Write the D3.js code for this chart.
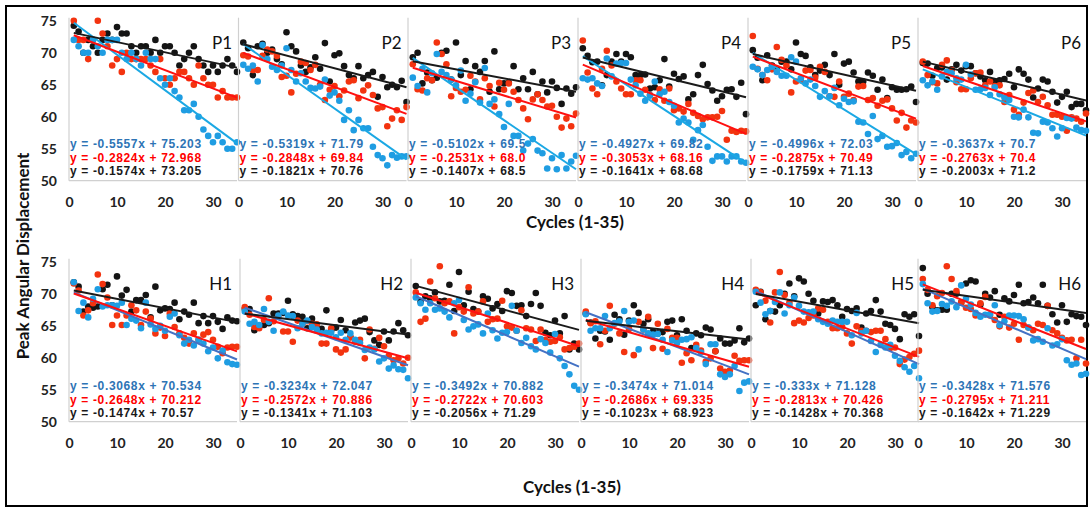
<!DOCTYPE html>
<html><head><meta charset="utf-8">
<script src="https://cdn.jsdelivr.net/npm/d3@7/dist/d3.min.js"></script>
<style>body{margin:0;background:#fff} text{font-family:Lato,'Open Sans',sans-serif}</style>
</head><body><svg id="c" width="1092" height="510"></svg>
<script>
const panelNames = ["P1","P2","P3","P4","P5","P6","H1","H2","H3","H4","H5","H6"];
const cycles = d3.range(1, 36);
const yTicks = [50, 55, 60, 65, 70, 75];
const xTicks = [0, 10, 20, 30];

const P1_black = [74.2,73.3,70,72,71,70,72,73,72,74,73,73,71,70,71,71,70,72,70,71,71,70,68,69,70,71,69,68,67,68,67,68,69,68,67];
const P1_blue  = [72,71,70,70,72,71,70,72,72,72,70,69,70,69,68,70,69,69,66,65,66,64,63,61,61,62,60,58,57,56,57,56,55,55,56];
const P1_red   = [75,72,72,69,72,75,73,71,68,69,67,70,69,69,69,69,68,67,69,66,65,66,67,67,66,65,68,66,65,65,63,64,63,63,63];
const P2_black = [71.6,70.7,66.5,71,71.4,70,70.5,69,68.2,73.2,71,70.2,68,67,67.7,69.3,67.5,71.5,65.5,69.6,69.9,67.9,66.5,66,67.9,66,66.5,67,63.1,66.2,64.6,65,64.6,65.6,62.3];
const P2_blue  = [68.1,67.5,68,65.5,71.2,69,67.8,67.3,68,70.7,67.3,65.5,66.8,65.5,64.5,64.4,64.7,65.8,63.3,63.8,62.5,59.5,61,57.9,59.5,58.2,58.2,55.3,54,53.5,52.4,54,53.6,53.8,53.8];
const P2_red   = [69.6,69.4,67.3,67.3,69.5,70.5,70.2,69.5,66.2,66.4,63.8,66.7,68.6,68.4,67.3,68.1,65,62.6,64.2,64.8,63.2,64.1,65.5,65.7,62.9,64.1,64.9,63.4,61.3,61.5,58.5,59.7,61,59.5,61.5];
const P3_black = [69.3,70,65.2,66.9,65.7,66.1,70,70.3,65.8,71.6,66.5,68.7,64.3,67.9,67,68.7,63.9,70.2,64.3,65.2,65.3,67.9,64.3,66,64.3,67,63.5,65.5,63.8,65.5,64.5,62,64.4,63.6,64.6];
const P3_blue  = [66.1,64.8,67.5,63.8,66.8,69.8,67,66.5,65.8,64.9,67.2,62.5,63.6,65.4,62.2,67.6,62,62.7,60.4,58.4,62,57,57,54.7,55.8,56.5,54.7,54.3,51.9,53.5,51.8,54,51.9,53,53.9];
const P3_red   = [68.2,64.3,64.1,66,65.7,71.6,69.8,68.2,63.2,64.5,63.9,64.2,66.4,65.5,62.7,66,64.8,61.6,65.3,64.2,65.2,63.9,62.6,61.3,59.6,62.7,63.5,62.6,61.6,61.7,60,58.3,59.7,58.5,60.5];
const P4_black = [70.7,69.5,68.5,68.6,64.9,66.5,68.6,69.8,68.6,69.8,69.3,66.5,66.5,66.6,64.4,64.6,65.7,69,64.7,66.7,65.9,66.3,62.7,63.5,66.5,68.1,65.1,64.1,62.5,63.2,64.2,64.3,63.1,65.3,60.4];
const P4_blue  = [66,65.8,66,65.2,64.8,69.1,66.3,68.3,68.4,68.4,65.8,64.9,63.6,62.5,63.3,65.5,63.5,63.9,62.3,61.7,59.1,59.7,59.1,56.4,57.9,58.7,55.3,53.1,53.8,53.8,53,53.8,53.8,53,52.8];
const P4_red   = [71.9,66.9,64.4,63.5,67.5,70.3,68,65.5,64.4,63.5,63.5,65.7,65.7,64.2,63.4,62.6,64.3,62.5,64.4,61,61.3,60.8,62,60.6,60.1,59.6,59.9,59.9,60,60.9,56.4,57.8,57.6,57.8,57.7];
const P5_black = [70.4,69.2,65.7,69.6,68,67.5,68.6,68.6,67.4,71.6,69.8,69.5,67.7,66.5,67.2,68.1,66.5,69.8,65,68.3,68.6,66.9,65.5,65.5,66.9,66.4,64.2,65.8,62.9,64.6,64.2,64.2,64.3,64.7,62.3];
const P5_blue  = [67.8,67.4,66.5,67.3,67.8,67,66.4,66.4,69.3,68.6,66,65.2,65.8,64.8,63.1,64,63.2,64.5,61.8,62.8,62.3,62.4,59.2,59.1,57.3,60.1,56.5,57,55.3,55.4,55.9,54,54.5,53.5,54.2];
const P5_red   = [72.6,67.5,66.5,65.7,67.4,70.9,68.9,68,63.8,65.5,65.7,67.2,67.3,66.1,67.8,67,63.2,63.1,65.5,63.1,63.6,62.6,64.7,64.8,62.6,62.9,61.7,62.5,62.7,61.3,59.4,60.6,58.3,59.4,59.1];
const P6_black = [68.4,68.3,66.4,67.6,67.7,65.8,67.4,68.1,67.2,67.9,67.9,66.8,66.3,65.7,67,65.5,65.7,65.9,66.7,64.6,67.4,66.7,65.8,63,64.4,65.8,65.5,63.9,62.2,63.1,63.9,61.5,62,62,61];
const P6_blue  = [65.7,64.9,65.5,64.2,66.3,67,66.8,66,65.8,68.1,66.6,64.2,64.3,64.5,63.4,64.6,63.5,63,62.6,60,59.9,61.1,59.9,57.5,57.4,59.2,59.1,58.2,56.9,58.2,59.8,59.7,58.3,57.9,57.8];
const P6_red   = [68.6,66.5,65.4,65.2,68.1,68.8,67.3,65.4,64.3,64.3,66,66.8,66.9,64.9,65.5,64.8,64.9,62.3,63.4,61.1,60.3,62.2,63.7,64.1,62.3,63.1,61.8,60.3,60.3,60,57.8,59.9,59.7,59.2,60.5];
const H1_black = [71.8,71.1,67.2,68,67.8,68,70.7,71.4,68.2,72.7,69.7,70.6,67.2,69,69,69.8,66.3,71.1,67.4,67.7,67.6,68.6,66,67.2,66.7,68.6,65.4,66.5,65.4,66.5,65.6,64.5,66.3,65.8,65.7];
const H1_blue  = [71.8,67.3,68.6,66.3,69.2,70.7,68,68.2,68.2,68.1,68.6,65.1,66.1,65.8,64.6,68.6,65.2,64.5,65,64.2,66.4,66.9,63.5,62.2,62.8,61.9,62.8,62.2,61,61.6,59.9,61.1,59.3,59,58.9];
const H1_red   = [71.6,70.5,66.6,67.4,68.5,73,71.5,69.4,65.1,66.6,65.1,66.6,68.2,67.4,65.1,67.2,66.1,63.8,64.7,63.4,66.9,64.8,63.8,63.1,62.2,63.8,62.8,63.6,64,62.8,61.7,60.7,61.6,61.7,61.7];
const H2_black = [67.6,67.6,64.3,64.9,65.1,65.4,66.9,66.9,67,68.9,66.8,66.5,66.4,64.6,66.1,64.6,64.5,67.4,64.3,64.7,65.9,64.3,63.2,65.5,65.8,66.1,64,62.7,62,64.1,62.7,64.1,65.4,64.3,63.5];
const H2_blue  = [67.2,65.3,65.6,65.1,67.6,65.6,64.2,66.6,67.2,66.6,66.5,64.6,65.3,65.8,64.8,64.4,63.8,63.9,63.9,63.2,63.9,62.8,63.8,62.8,62.3,61.2,61.6,61.3,59.4,59.9,58.3,58.8,58.2,58.1,56.8];
const H2_red   = [67.9,66.7,64.8,64.6,65.9,69.3,65.7,66.5,64.1,64.1,62.5,65.8,65.3,65.7,65.3,65.2,62.2,62.2,64.6,61.3,60.8,61.3,63.2,62.5,62.8,59.9,64.4,61.4,63.1,61.8,60.3,59.6,59.9,59.1,60];
const H3_black = [71.2,68.8,69.6,69.3,70.2,68.8,68.9,71.4,67.3,73.4,68.2,70.3,67.6,67.2,69.6,69.2,67.7,68.4,67.3,70.4,70.1,68.1,68.2,66.5,68.4,70.1,68.1,63.9,63.5,65.8,63.8,66.5,61.3,62.2,61.3];
const H3_blue  = [69.4,68.5,67.5,68.5,67.5,67.7,67.2,66.3,68.5,69,65.9,64.4,64.9,65.2,63.8,66.9,64.3,63,63.9,64,68.1,64.2,62.3,63.1,61.8,61.3,62.9,62.3,60.8,63.7,59.9,58.7,57.4,55.6,55];
const H3_red   = [70.2,65.6,66.1,71.9,69.3,74.3,68.5,68.8,63.8,67.9,67.2,71,66.9,67.2,68.8,65.6,66,66.1,68.9,64.9,64.7,64.2,67.4,64.6,64.4,62.6,64.4,62.8,62.5,62.6,63.2,61.3,61.5,61.7,62.2];
const H4_black = [66.9,65.5,63,64.2,64.1,62.8,66.7,66,63.6,65.8,68.2,67,65.3,66,64.1,63.8,64,65.6,65.8,63.5,66,64.2,61.5,63.8,63.5,64.7,64.4,61,63,62.2,62.2,62.7,64.6,62.4,63];
const H4_blue  = [66.8,64.2,64.6,64.6,66.5,64.6,65.4,65.7,67.3,65.6,65.8,61.3,64.4,63.8,63.6,63.7,62.8,60.9,62.7,62.3,62.8,62.9,63.2,61.5,60.8,59,62.1,62.1,57.4,57,57.4,58.7,54.8,56.1,56.3];
const H4_red   = [67.2,65.4,65.7,62.1,64.2,68.1,65.3,63.8,60.9,64.5,60.4,65.6,64.4,66.4,61.5,65.3,61.4,64.5,63.1,63.1,59.2,60.7,59.6,62,61.1,59.4,59.9,61,58.3,57.8,58,60.3,59.5,59.6,59.6];
const H5_black = [68.2,70.3,66,67.3,67.2,68.2,70,71.6,69.6,72.4,71.9,70,68.9,66.9,68.8,68.7,69,68.2,66.4,67.6,67.3,67.7,64.7,66.9,67.3,69,67.2,65.3,65.1,64.5,62.9,66.8,66.4,66.8,63.4];
const H5_blue  = [70.3,68.6,66.8,67.3,68.7,70.2,66.9,68.2,69.4,68.1,67.2,67.1,67.2,66,65.6,65.3,65.8,65.6,65.6,65.6,63.5,67,63.8,64.2,62.6,60.9,62,61.6,62,60.3,59.5,58.5,57.8,58.7,56.8];
const H5_red   = [70.6,70.2,68.9,65.5,70.2,73.4,69.8,68.6,65.4,65.8,65.5,66.2,66.6,67.7,67.5,65.6,64.6,64.6,64.8,63.8,62.2,64.9,64.2,64.2,64,64.2,64.2,62.9,61.5,61.6,59,59.7,60.1,60.6,61.1];
const H6_black = [74,70,67.9,67.4,67.5,67.5,70,70,68.6,71.6,72.1,71.9,68.3,70,69.4,70.4,66.7,69.3,68.8,69.8,71.4,68.5,68.7,69.4,68.5,71.4,68.1,66.8,65.5,68.2,65.6,66.8,66.5,66.4,65.1];
const H6_blue  = [71.5,68.5,67.2,67.3,68.4,68.1,68.8,67.9,71.3,69.2,68.3,67,66.4,66.7,66.8,68.2,65.1,65.7,66.6,66.6,66.5,66,64.7,62.7,62.9,62.5,64.6,61.9,62.1,62.9,59.6,58.9,59.1,57.3,57.5];
const H6_red   = [72.3,70.6,68.2,69.6,70.1,74.3,72.3,70.4,68.6,67.8,67.6,66.6,68.5,69.5,66.6,65.9,64.9,66.4,64.7,65.3,62.8,65.1,64.7,64.3,65.3,65.1,68.1,64.3,63.8,63.1,62.7,62.8,59.9,62.8,59.1];

const eqBlue  = ["y = -0.5557x + 75.203","y = -0.5319x + 71.79","y = -0.5102x + 69.5","y = -0.4927x + 69.82","y = -0.4996x + 72.03","y = -0.3637x + 70.7",
                 "y = -0.3068x + 70.534","y = -0.3234x + 72.047","y = -0.3492x + 70.882","y = -0.3474x + 71.014","y = -0.333x + 71.128","y = -0.3428x + 71.576"];
const eqRed   = ["y = -0.2824x + 72.968","y = -0.2848x + 69.84","y = -0.2531x + 68.0","y = -0.3053x + 68.16","y = -0.2875x + 70.49","y = -0.2763x + 70.4",
                 "y = -0.2648x + 70.212","y = -0.2572x + 70.886","y = -0.2722x + 70.603","y = -0.2686x + 69.335","y = -0.2813x + 70.426","y = -0.2795x + 71.211"];
const eqBlack = ["y = -0.1574x + 73.205","y = -0.1821x + 70.76","y = -0.1407x + 68.5","y = -0.1641x + 68.68","y = -0.1759x + 71.13","y = -0.2003x + 71.2",
                 "y = -0.1474x + 70.57","y = -0.1341x + 71.103","y = -0.2056x + 71.29","y = -0.1023x + 68.923","y = -0.1428x + 70.368","y = -0.1642x + 71.229"];

const seriesBlack = [P1_black,P2_black,P3_black,P4_black,P5_black,P6_black,H1_black,H2_black,H3_black,H4_black,H5_black,H6_black];
const seriesBlue  = [P1_blue,P2_blue,P3_blue,P4_blue,P5_blue,P6_blue,H1_blue,H2_blue,H3_blue,H4_blue,H5_blue,H6_blue];
const seriesRed   = [P1_red,P2_red,P3_red,P4_red,P5_red,P6_red,H1_red,H2_red,H3_red,H4_red,H5_red,H6_red];

function linReg(xs, ys) {
  const mx = d3.mean(xs), my = d3.mean(ys);
  let sxy = 0, sxx = 0;
  xs.forEach((x, i) => { sxy += (x - mx) * (ys[i] - my); sxx += (x - mx) * (x - mx); });
  const m = sxy / sxx;
  return { m, b: my - m * mx };
}

const svg = d3.select("#c");
svg.append("rect").attr("x", 6).attr("y", 6).attr("width", 1081).attr("height", 500)
  .attr("fill", "none").attr("stroke", "#000").attr("stroke-width", 2);

const rows = [
  { y75: 20.7, y50: 180.7, lefts: [69, 238.5, 408, 578, 748, 918], eqY: [148, 161.5, 175] },
  { y75: 261.7, y50: 421.7, lefts: [69, 240, 411, 581, 751, 918], eqY: [390, 403.5, 417] }
];
const PW = 168;

panelNames.forEach((name, i) => {
  const row = rows[i < 6 ? 0 : 1];
  const col = i % 6;
  const left = row.lefts[col];
  const x = d3.scaleLinear().domain([0, 35]).range([left, left + PW]);
  const y = d3.scaleLinear().domain([50, 75]).range([row.y50, row.y75]);
  const g = svg.append("g");

  g.append("line").attr("x1", left).attr("x2", left).attr("y1", row.y75 - 3).attr("y2", row.y50)
    .attr("stroke", "#d0d0d0").attr("stroke-width", 1.2);
  g.append("line").attr("x1", left).attr("x2", left + PW).attr("y1", row.y50).attr("y2", row.y50)
    .attr("stroke", "#d0d0d0").attr("stroke-width", 1.2);

  if (col === 0) {
    const ya = g.append("g").attr("transform", `translate(${left},0)`)
      .call(d3.axisLeft(y).tickValues(yTicks).tickSize(0).tickPadding(12));
    ya.select(".domain").remove();
    ya.selectAll("text").attr("font-size", 14).attr("font-weight", 700).attr("fill", "#222")
      .style("font-family", "Lato, sans-serif");
  }
  const xa = g.append("g").attr("transform", `translate(0,${row.y50})`)
    .call(d3.axisBottom(x).tickValues(xTicks).tickSize(0).tickPadding(16));
  xa.select(".domain").remove();
  xa.selectAll("text").attr("font-size", 14).attr("font-weight", 700).attr("fill", "#222")
    .style("font-family", "Lato, sans-serif");

  const sets = [
    { data: seriesBlack[i], fill: "#141414", line: "#1a1a1a" },
    { data: seriesRed[i], fill: "#f3330f", line: "#ff1010" },
    { data: seriesBlue[i], fill: "#1f9de2", line: i < 6 ? "#1ba8e4" : "#4472c4" }
  ];
  sets.forEach(s => {
    g.append("g").selectAll("circle").data(s.data).join("circle")
      .attr("cx", (d, k) => x(cycles[k])).attr("cy", d => y(d)).attr("r", 3.3).attr("fill", s.fill);
  });
  [sets[2], sets[1], sets[0]].forEach(s => {
    const r = linReg(cycles, s.data);
    const x0 = cycles[0], x1 = cycles[cycles.length - 1];
    g.append("line").attr("x1", x(x0)).attr("y1", y(r.m * x0 + r.b))
      .attr("x2", x(x1)).attr("y2", y(r.m * x1 + r.b))
      .attr("stroke", s.line).attr("stroke-width", 2);
  });

  g.append("text").attr("x", left + 163).attr("y", row.y75 + 28).attr("text-anchor", "end")
    .attr("font-size", 17).attr("fill", "#111").text(name);

  const eqs = [[eqBlue[i], "#2e74b5"], [eqRed[i], "#ff0000"], [eqBlack[i], "#1a1a1a"]];
  eqs.forEach((e, k) => {
    g.append("text").attr("x", left + 1).attr("y", row.eqY[k])
      .style("font-family", "'Liberation Sans', Arial, sans-serif")
      .attr("font-size", 12).attr("letter-spacing", 0.65).attr("font-weight", 700)
      .attr("fill", e[1]).text(e[0]);
  });
});

svg.append("text").attr("x", 575).attr("y", 228).attr("text-anchor", "middle")
  .attr("font-size", 17).attr("font-weight", 700).attr("fill", "#111").text("Cycles (1-35)");
svg.append("text").attr("x", 572).attr("y", 493).attr("text-anchor", "middle")
  .attr("font-size", 17).attr("font-weight", 700).attr("fill", "#111").text("Cycles (1-35)");
svg.append("text").attr("transform", "translate(29,256) rotate(-90)").attr("text-anchor", "middle")
  .attr("font-size", 17).attr("font-weight", 700).attr("fill", "#111").text("Peak Angular Displacement");
</script></body></html>
